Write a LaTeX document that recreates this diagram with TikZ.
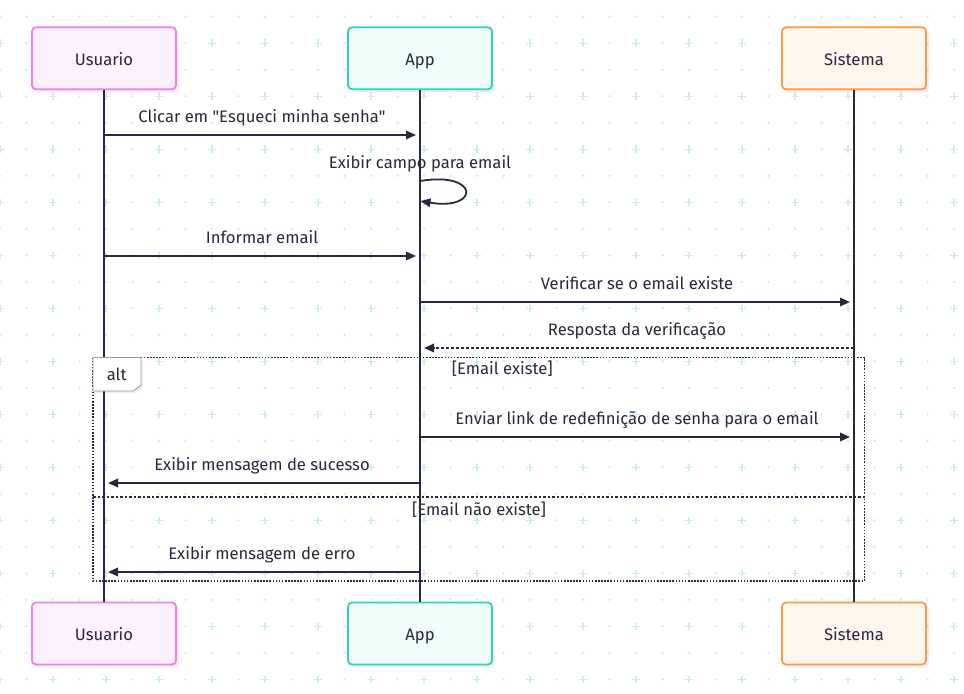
\documentclass[tikz,border=0pt]{standalone}
\usepackage{fontspec}
\setmainfont{Fira Sans}
\usepackage{tikz}
\usetikzlibrary{arrows.meta,shadows,positioning}
\definecolor{ink}{RGB}{42,40,62}
\definecolor{gridc}{RGB}{208,236,240}
\definecolor{usr_d}{RGB}{240,126,240}
\definecolor{usr_f}{RGB}{253,241,253}
\definecolor{app_d}{RGB}{48,212,186}
\definecolor{app_f}{RGB}{239,252,250}
\definecolor{sys_d}{RGB}{251,154,72}
\definecolor{sys_f}{RGB}{254,245,236}
\tikzset{
  actor/.style = {rectangle, rounded corners=4bp, line width=1.8bp, text=ink,
    minimum width=144bp, minimum height=62bp, text height=14bp, text depth=0bp,
    drop shadow={shadow xshift=3bp, shadow yshift=-3bp, fill=black, opacity=0.07}},
  act_u/.style = {actor, draw=usr_d, fill=usr_f},% participante Usuario
  act_a/.style = {actor, draw=app_d, fill=app_f},% participante App
  act_s/.style = {actor, draw=sys_d, fill=sys_f},% participante Sistema
  lifeline/.style = {draw=ink, line width=2bp},
  msg/.style = {draw=ink, line width=1.8bp, shorten >=4bp,
    -{Triangle[length=10bp,width=8.5bp]}},% mensagem
  msg_r/.style = {msg, dash pattern=on 3bp off 2bp},% resposta
  lbl/.style = {text=ink, anchor=base, inner sep=0bp, yshift=12.3bp},
  cond/.style = {text=ink, anchor=base, inner sep=0bp},% guarda do alt
  alt_frame/.style = {draw=ink, line width=1.7bp, dash pattern=on 1.6bp off 1.5bp},
  alt_sep/.style = {draw=ink, line width=1.7bp, dash pattern=on 2.5bp off 2bp},
  alt_tag/.style = {draw=black!40, line width=0.8bp, fill=white,
    drop shadow={shadow xshift=2bp, shadow yshift=-2bp, fill=black, opacity=0.07}}
}
\begin{document}
\begin{tikzpicture}[x=1bp,y=-1bp,font=\fontsize{16.7}{20}\selectfont]
  \fill[white] (0,0) rectangle (964,694);
  \useasboundingbox (0,0) rectangle (964,694);
  % fundo pontilhado
  \foreach \i in {0,...,36}{
    \foreach \j in {0,...,25}{
      \ifodd\j
        \ifodd\i
          \fill[gridc] (26.5*\i,16.8+26.5*\j) circle (1.3);
        \else
          \draw[gridc, line width=1.4bp] (26.5*\i-3.8,16.8+26.5*\j) -- (26.5*\i+3.8,16.8+26.5*\j)
            (26.5*\i,16.8+26.5*\j-3.8) -- (26.5*\i,16.8+26.5*\j+3.8);
        \fi
      \else
        \fill[gridc] (26.5*\i,16.8+26.5*\j) circle (1.3);
      \fi
    }
  }
  % participantes
  \node [act_u] (uT) at (104,58.3) {Usuario};
  \node [act_a] (aT) at (420,58.3) {App};
  \node [act_s] (sT) at (854,58.3) {Sistema};
  \node [act_u, below=511.4bp of uT] (uB) {Usuario};
  \node [act_a, below=511.4bp of aT] (aB) {App};
  \node [act_s, below=511.4bp of sT] (sB) {Sistema};
  \draw [lifeline] (uT) -- (uB);
  \draw [lifeline] (aT) -- (aB);
  \draw [lifeline] (sT) -- (sB);
  \foreach \n/\y in {1/135,2/181,3/201,4/256,5/302,6/348,7/437,8/483,9/572}{
    \coordinate (u\n) at (104,\y);
    \coordinate (a\n) at (420,\y);
    \coordinate (s\n) at (854,\y);
  }
  % mensagens
  \draw [msg] (u1) -- (a1) node [lbl, midway] (m1) {Clicar em \textquotedbl Esqueci minha senha\textquotedbl};
  \draw [msg, shorten >=0.5bp] (a2) .. controls +(60,-10) and +(60,10) .. (a3);
  \node [lbl] (m2) at (a2) {Exibir campo para email};
  \draw [msg] (u4) -- (a4) node [lbl, midway] (m4) {Informar email};
  \draw [msg] (a5) -- (s5) node [lbl, midway] (m5) {Verificar se o email existe};
  \draw [msg_r] (s6) -- (a6) node [lbl, midway] (m6) {Resposta da verificação};
  % bloco alt
  \coordinate (altNW) at (93,357.5);
  \coordinate (altSE) at (864.5,581);
  \coordinate (altW) at (93,497);
  \coordinate (altE) at (864.5,497);
  \draw [alt_frame] (altNW) rectangle (altSE);
  \draw [alt_sep] (altW) -- (altE);
  \draw [alt_tag] (93,357.5) -- (141,357.5) -- (141,385) -- (133.3,391) -- (93,391) -- cycle;
  \node [cond] (tag) at (116.7,380.7) {alt};
  \node [cond] (g1) at (502.3,374) {[Email existe]};
  \node [cond] (g2) at (479,515) {[Email não existe]};
  \draw [msg] (a7) -- (s7) node [lbl, midway] (m7) {Enviar link de redefinição de senha para o email};
  \draw [msg] (a8) -- (u8) node [lbl, midway] (m8) {Exibir mensagem de sucesso};
  \draw [msg] (a9) -- (u9) node [lbl, midway] (m9) {Exibir mensagem de erro};
\end{tikzpicture}
\end{document}
